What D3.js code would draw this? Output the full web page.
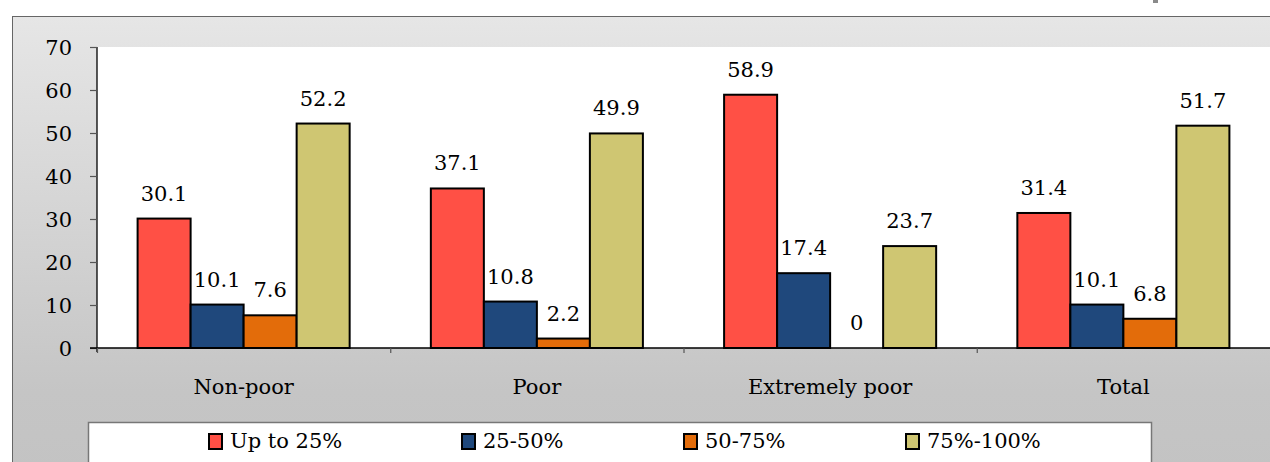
<!DOCTYPE html>
<html><head><meta charset="utf-8">
<script src="https://cdn.jsdelivr.net/npm/d3@7"></script>
<style>html,body{margin:0;padding:0;background:#fff;overflow:hidden}svg{display:block}</style>
</head><body>
<svg id="chart" width="1270" height="462"></svg>
<script>
const categories = ["Non-poor", "Poor", "Extremely poor", "Total"];
const seriesNames = ["Up to 25%", "25-50%", "50-75%", "75%-100%"];
const upTo25 = [30.1, 37.1, 58.9, 31.4];
const s25to50 = [10.1, 10.8, 17.4, 10.1];
const s50to75 = [7.6, 2.2, 0, 6.8];
const s75to100 = [52.2, 49.9, 23.7, 51.7];
const yTicks = [0, 10, 20, 30, 40, 50, 60, 70];
const colors = ["#ff5045", "#1f487c", "#e36c0a", "#cfc672"];

(function () {
const series = [upTo25, s25to50, s50to75, s75to100];
const FONT = "DejaVu Serif, Liberation Serif, serif";
const FS = 21;

const svg = d3.select("#chart");
const defs = svg.append("defs");
const grad = defs.append("linearGradient").attr("id", "bg").attr("x1", 0).attr("y1", 0).attr("x2", 0).attr("y2", 1);
grad.append("stop").attr("offset", "0%").attr("stop-color", "#e6e6e6");
grad.append("stop").attr("offset", "75%").attr("stop-color", "#c5c5c5");
grad.append("stop").attr("offset", "100%").attr("stop-color", "#c2c2c2");

// decorative fragment at top
svg.append("rect").attr("x", 1153).attr("y", 0).attr("width", 5).attr("height", 3).attr("fill", "#8a8a8a");

// outer chart area
svg.append("rect").attr("x", 12.5).attr("y", 16.5).attr("width", 1300).attr("height", 500)
  .attr("fill", "url(#bg)").attr("stroke", "#666").attr("stroke-width", 1);

const pLeft = 97, pRight = 1270, pTop = 47, pBottom = 348;

// plot area
svg.append("rect").attr("x", pLeft).attr("y", pTop).attr("width", pRight - pLeft).attr("height", pBottom - pTop).attr("fill", "#fff");

const x0 = d3.scaleBand().domain(categories).range([pLeft, pRight]).padding(0);
const pad = 40.6;
const x1 = d3.scaleBand().domain(d3.range(series.length)).range([pad, x0.bandwidth() - pad]).padding(0);
const y = d3.scaleLinear().domain([0, 70]).range([pBottom, pTop]);

// bars
const groups = svg.append("g").selectAll("g").data(categories).join("g")
  .attr("transform", d => `translate(${x0(d)},0)`);

groups.each(function(cat, ci) {
  const g = d3.select(this);
  series.forEach((vals, si) => {
    const v = vals[ci];
    if (v > 0) {
      g.append("rect")
        .attr("x", x1(si))
        .attr("y", y(v))
        .attr("width", x1.bandwidth())
        .attr("height", y(0) - y(v))
        .attr("fill", colors[si])
        .attr("stroke", "#000")
        .attr("stroke-width", 2);
    }
    g.append("text")
      .attr("x", x1(si) + x1.bandwidth() / 2)
      .attr("y", y(v) - 18)
      .attr("text-anchor", "middle")
      .style("font-family", FONT)
      .style("font-size", FS + "px")
      .attr("fill", "#000")
      .text(v);
  });
});

// y axis
const yAxis = svg.append("g").attr("transform", `translate(${pLeft},0)`)
  .call(d3.axisLeft(y).tickValues(yTicks).tickSize(7).tickPadding(18).tickFormat(d3.format("d")));
yAxis.select(".domain").attr("d", `M0,${pTop}V${pBottom + 4}`).attr("stroke", "#000").attr("stroke-width", 1.3);
yAxis.selectAll(".tick line").attr("stroke", "#555").attr("stroke-width", 1.2);
yAxis.selectAll(".tick text").style("font-family", FONT).style("font-size", FS + "px").attr("fill", "#000").attr("dy", "0.36em");
yAxis.attr("font-family", null).attr("font-size", null);

// x axis
const xAxis = svg.append("g").attr("transform", `translate(0,${pBottom})`)
  .call(d3.axisBottom(x0).tickSize(0).tickPadding(31));
xAxis.attr("font-family", null).attr("font-size", null);
xAxis.select(".domain").attr("d", `M${pLeft - 7},0H${pRight}`).attr("stroke", "#000").attr("stroke-width", 1.3);
xAxis.selectAll(".tick text").style("font-family", FONT).style("font-size", FS + "px").attr("fill", "#000");
// category separator ticks
svg.append("g").selectAll("line").data(categories).join("line")
  .attr("x1", d => x0(d) + 0.5).attr("x2", d => x0(d) + 0.5)
  .attr("y1", pBottom).attr("y2", pBottom + 5)
  .attr("stroke", "#555").attr("stroke-width", 1.2);

// legend
svg.append("rect").attr("x", 88.5).attr("y", 422.5).attr("width", 1063).attr("height", 60)
  .attr("fill", "#fff").attr("stroke", "#777").attr("stroke-width", 1.5);
const legendX = [209, 462, 684, 906];
const leg = svg.append("g").selectAll("g").data(seriesNames).join("g")
  .attr("transform", (d, i) => `translate(${legendX[i]},0)`);
leg.append("rect").attr("x", 0).attr("y", 434).attr("width", 13).attr("height", 15)
  .attr("fill", (d, i) => colors[i]).attr("stroke", "#000").attr("stroke-width", 2);
leg.append("text").attr("x", 21).attr("y", 448)
  .style("font-family", FONT).style("font-size", FS + "px").attr("fill", "#000").text(d => d);
})();
</script>
</body></html>
